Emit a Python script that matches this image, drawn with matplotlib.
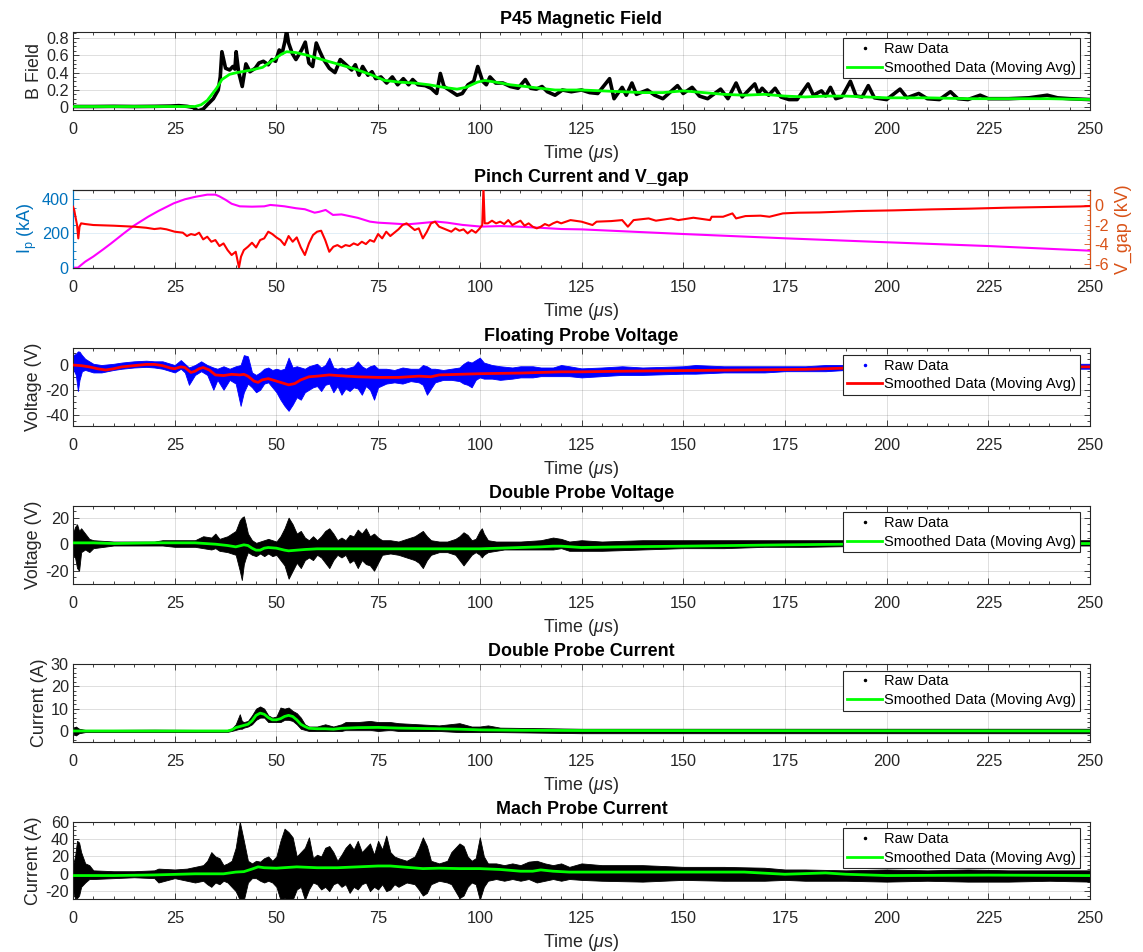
import matplotlib
matplotlib.use("Agg")
import matplotlib.pyplot as plt
import numpy as np
from matplotlib.lines import Line2D
from matplotlib.ticker import MultipleLocator, AutoMinorLocator, FuncFormatter

# ---------------------------------------------------------------------------
# Datos (tiempo en us)
# ---------------------------------------------------------------------------

# P45 campo magnetico: traza cruda (t, B) y media movil (t, B)
B_RAW = [(0, 0.01), (5, 0.01), (10, 0.012), (15, 0.01), (20, 0.012), (24, 0.015), (26, 0.02),
         (28, 0.012), (29.5, 0.0), (30.7, -0.04), (32, -0.02), (33, 0.03), (34.5, 0.1), (35.7, 0.2),
         (36.2, 0.35), (36.6, 0.64), (37.5, 0.45), (38.5, 0.43), (39.3, 0.47), (39.8, 0.44), (40.1, 0.64),
         (40.7, 0.41), (41.6, 0.24), (42.5, 0.5), (43.5, 0.41), (44.8, 0.45), (45.7, 0.51), (46.8, 0.53),
         (48, 0.49), (48.9, 0.55), (49.8, 0.53), (50.7, 0.66), (51.4, 0.62), (52.1, 0.76), (52.5, 0.88),
         (53, 0.74), (53.9, 0.62), (54.8, 0.55), (56.2, 0.66), (57.1, 0.75), (58, 0.51), (58.9, 0.47),
         (59.8, 0.74), (60.7, 0.64), (61.6, 0.55), (63, 0.45), (64.4, 0.4), (65.7, 0.55), (67.1, 0.49),
         (68.5, 0.43), (69.4, 0.49), (70.3, 0.37), (71.2, 0.47), (72.5, 0.37), (73.5, 0.41), (74.4, 0.33),
         (75.7, 0.35), (77.1, 0.28), (78.5, 0.35), (79.8, 0.26), (81.2, 0.33), (82.5, 0.26), (83.5, 0.32),
         (84.8, 0.26), (86.6, 0.25), (88, 0.22), (89.4, 0.16), (90.3, 0.39), (91.2, 0.24), (92.5, 0.2),
         (94.4, 0.14), (95.7, 0.16), (97.1, 0.26), (98.5, 0.3), (99.5, 0.47), (100.7, 0.3), (101.6, 0.26),
         (102.5, 0.35), (103.9, 0.28), (105.7, 0.28), (107.5, 0.24), (109.4, 0.22), (111.2, 0.32),
         (112.5, 0.22), (113.9, 0.21), (115.3, 0.24), (116.6, 0.18), (118.5, 0.14), (120.3, 0.2),
         (122.5, 0.18), (125, 0.2), (127, 0.17), (129, 0.16), (131.9, 0.33), (133, 0.1), (135, 0.23),
         (136, 0.14), (137.4, 0.28), (138.5, 0.15), (141.2, 0.2), (143, 0.14), (145, 0.1), (148.6, 0.25),
         (150, 0.16), (152.2, 0.23), (154, 0.13), (156, 0.1), (159.2, 0.21), (161, 0.1), (163, 0.28),
         (164.5, 0.12), (167.6, 0.27), (168.5, 0.16), (169.4, 0.22), (171, 0.14), (172.6, 0.22),
         (174, 0.12), (176, 0.09), (178, 0.09), (180.7, 0.27), (182, 0.14), (184, 0.19), (185, 0.13),
         (186.2, 0.23), (187.5, 0.1), (189, 0.12), (191.1, 0.3), (192.5, 0.13), (194, 0.12), (195.5, 0.25),
         (197, 0.11), (200, 0.09), (203.3, 0.21), (205, 0.11), (207.9, 0.16), (210, 0.1), (213, 0.09),
         (215.7, 0.18), (217.5, 0.1), (220, 0.09), (223, 0.14), (225, 0.1), (230, 0.1), (235, 0.11),
         (239.5, 0.14), (242, 0.11), (245, 0.1), (250, 0.09)]
B_SMOOTH = [(0, 0.01), (30, 0.01), (31.5, 0.03), (33, 0.08), (35.3, 0.22), (36.6, 0.32), (38.5, 0.38),
            (40.3, 0.4), (43.9, 0.43), (46.6, 0.46), (49.4, 0.55), (51.2, 0.61), (52.5, 0.64), (54.8, 0.63),
            (57.5, 0.6), (61.2, 0.55), (65.7, 0.49), (69.4, 0.44), (73, 0.38), (76.6, 0.31), (80.3, 0.29),
            (83.9, 0.28), (87.5, 0.26), (91.2, 0.23), (94.4, 0.21), (96.6, 0.23), (99.4, 0.29), (101.2, 0.31),
            (103.9, 0.29), (107.5, 0.26), (111.2, 0.24), (114.8, 0.22), (118.5, 0.2), (125, 0.2), (130, 0.19),
            (135, 0.18), (140, 0.17), (145, 0.17), (150, 0.19), (155, 0.17), (160, 0.15), (165, 0.14),
            (170, 0.15), (175, 0.13), (180, 0.12), (185, 0.13), (190, 0.13), (195, 0.12), (200, 0.11),
            (210, 0.11), (220, 0.1), (230, 0.1), (240, 0.1), (250, 0.09)]

# Corriente de pinch (kA) y V_gap (kV)
IP_KA = [(0, 0), (1.2, 0), (3, 35), (5, 65), (7.5, 108), (9.4, 142), (12.5, 200), (15, 245), (18.5, 297),
         (21, 330), (24.8, 375), (27.5, 398), (30, 412), (33, 425), (35, 425), (36, 415), (37.5, 395),
         (39, 372), (41, 357), (44, 355), (47, 357), (48.5, 365), (50, 362), (52, 357), (54.8, 346),
         (57, 340), (59.4, 320), (60.5, 325), (62.1, 336), (63.9, 307), (66, 310), (68, 300), (70, 290),
         (73, 268), (75, 262), (78, 258), (82, 252), (85, 258), (89.4, 268), (92, 262), (95.7, 249),
         (100.3, 239), (105, 242), (109.4, 239), (115, 232), (120, 225), (125, 223), (150, 196),
         (175, 171), (200, 148), (225, 126), (250, 99)]
VGAP_KV = [(0, -0.17), (0.3, -0.51), (0.6, -1.19), (1.0, -2.03), (1.3, -3.39), (1.6, -2.2), (2, -1.86),
           (3, -1.93), (5, -2.03), (10, -2.1), (15, -2.2), (18, -2.31), (20, -2.44), (21.5, -2.37),
           (23, -2.47), (25, -2.71), (27, -2.81), (28, -3.15), (29, -2.95), (30, -3.05), (31, -2.81),
           (32, -3.49), (33, -3.22), (34, -3.73), (35, -3.56), (36, -4.17), (37, -3.9), (38, -4.58),
           (39, -5.08), (40, -4.75), (40.8, -6.34), (41.3, -5.25), (42, -4.58), (43, -4.24), (44, -3.83),
           (45, -4.31), (46, -3.56), (47, -3.39), (48, -2.71), (49, -2.95), (50, -3.29), (51, -3.56),
           (52, -4.07), (53, -3.15), (54, -3.73), (55, -3.29), (56, -4.31), (57, -5.08), (58, -3.9),
           (59, -3.05), (60, -2.71), (61, -2.61), (62, -3.56), (63, -4.75), (64, -4.24), (65, -4.07),
           (66, -4.31), (67, -4.07), (68, -4.17), (69, -3.9), (70, -4.07), (71, -3.73), (72, -3.97),
           (73, -3.56), (74, -3.73), (75, -2.95), (76, -3.39), (77, -2.71), (78, -3.15), (79, -2.81),
           (80, -2.47), (81, -2.03), (82, -1.86), (83, -2.2), (84, -2.54), (85, -2.37), (86, -3.39),
           (87, -2.71), (88, -1.86), (89, -1.69), (90, -2.2), (91, -2.37), (92, -2.54), (93, -2.71),
           (94, -2.37), (95, -2.61), (96, -2.47), (97, -2.88), (98, -2.54), (99, -2.81), (100, -2.37),
           (100.6, -2.03), (100.9, 1.7), (101.2, -1.86), (102, -1.86), (103, -1.59), (104, -1.86),
           (105, -1.69), (106, -1.93), (107, -1.53), (108, -2.03), (109, -1.8), (110, -1.59), (111, -2.1),
           (112, -1.86), (113, -2.2), (114, -2.37), (115, -2.2), (116, -1.93), (117, -2.1), (118, -1.86),
           (119, -1.69), (120, -1.86), (122.3, -1.53), (125, -1.69), (127.7, -2.03), (128.7, -1.69),
           (132.3, -1.63), (135, -1.53), (136.4, -2.2), (137.8, -1.53), (141.5, -1.36), (143.3, -1.59),
           (147, -1.36), (148.8, -1.53), (152.5, -1.29), (156.6, -1.53), (157, -1.19), (159.8, -1.19),
           (162.1, -0.85), (163, -1.36), (165.3, -1.12), (169, -1.08), (171.2, -1.19), (174.5, -0.85),
           (178.1, -0.78), (183.6, -0.75), (192.8, -0.61), (201.9, -0.54), (211, -0.44), (220.2, -0.37),
           (229.4, -0.27), (238.6, -0.2), (247.7, -0.14), (250, -0.1)]

# Sonda flotante: envolvente de datos crudos (t, min, max) y media movil (V)
FP_ENV = [(0, -3, 8), (0.7, -8, 9), (1.2, -21, 11), (1.6, -12, 10.8), (2.2, -5, 8), (3, -4, 5), (5, -6, 1),
          (7, -6, 0), (10, -4, 1), (12, -3, 2), (15, -2, 3), (18, -1.5, 3.5), (20, -2, 3), (22, -3, 3),
          (24, -5, 1), (25, -6, 0), (26.5, -3, 4), (27.5, -6, 1), (28.5, -16, -2), (30, -8, 0), (31.5, -5, 3),
          (33, -8, 0), (34.5, -20, -2), (35.5, -12, -3), (37, -20, -1), (38.5, -12, -3), (40, -15, -1),
          (41.2, -33, 0), (42, -22, 8), (43, -15, 7), (44, -18, -6), (45, -22, -8), (46, -20, -6),
          (47, -15, -3), (48, -14, -2), (49, -18, -4), (50, -22, -3), (51, -28, -4), (52, -33, -3),
          (53, -37, 6), (54, -32, -2), (55, -26, -1), (56, -28, -2), (57, -22, -3), (58, -20, -1),
          (59, -18, 0), (60, -17, 1), (61, -21, -2), (62, -16, 0), (63, -15, 6), (64, -22, -2),
          (65, -17, -3), (66, -24, -2), (67, -19, -3), (68, -21, -2), (69, -18, -1), (70, -19, 3),
          (71, -24, -1), (72, -17, -3), (73, -20, -1), (74, -28, 0), (75, -18, -3), (77, -15, -3),
          (79, -14, -4), (81, -15, -2), (83, -13, -3), (85, -14, -3), (86, -16, 0), (87, -24, -1),
          (88, -19, -3), (89, -14, -3), (91, -12, -4), (93, -12, -3), (95, -13, -2), (96, -15, 1),
          (97, -16, 3), (98, -18, 2), (99, -12, 4), (100, -10, 6), (101, -11, 2), (103, -11, 0),
          (105, -12, -1), (108, -11, -2), (110, -10, -1), (113, -10, -1), (115, -9, -2), (118, -9, -2),
          (120, -9, 0), (122, -9, -1), (125, -10, -2.7), (130, -9, -2), (135, -8, -1), (140, -8, -2),
          (150, -7, -1), (153, -7, 0), (160, -6, -1), (170, -6, -1), (175, -5, -1), (180, -5, -1),
          (185, -5, 0), (190, -4, 0), (200, -4, 0), (225, -3.5, 0.5), (248, -3, 1), (250, -3, 1)]
FP_SMOOTH = [(0, 0), (2, -0.5), (4, -1.5), (6, -3), (8, -4), (10, -3), (12, -1.5), (15, -0.5), (18, 0.5),
             (20, 0.5), (22, -0.5), (24, -2.5), (25, -3), (26.5, -1.5), (27.5, -2), (29, -6), (30, -5),
             (31, -3), (32, -2), (33.5, -4), (35, -8), (37, -8.5), (39, -7.5), (41, -8), (42, -7.5),
             (43, -9), (44.5, -13), (45.5, -14), (46.5, -12), (48, -11), (49.5, -12.5), (51, -14),
             (53, -16), (54.5, -15), (56, -12), (58, -9.5), (60, -9), (63, -8), (65, -8.5), (70, -9.5),
             (75, -10), (80, -10), (85, -9), (88, -9.5), (90, -8), (95, -7.5), (100, -7), (110, -6.5),
             (120, -5.5), (125, -5.5), (135, -5), (150, -4.5), (165, -4), (180, -3.5), (190, -2.5),
             (200, -2), (225, -1.5), (250, -1.5)]

# Sonda doble, tension (V)
DPV_ENV = [(0, -8, 8), (0.5, -10, 13), (1, -18, 15), (1.5, -20, 10), (2, -6, 12), (3, -4, 8), (4, -6, 4),
           (5, -3, 3), (10, -1, 2), (15, -1, 2), (20, -1, 2), (22, -1, 3), (25, -2, 3), (28, -2, 3),
           (30, -2, 3), (32, -3, 6), (34, -4, 5), (35, -3, 8), (36, -5, 4), (38, -6, 6), (40, -8, 10),
           (41, -20, 18), (41.5, -27, 20), (42, -15, 21), (42.5, -10, 15), (43, -6, 8), (44, -8, 3),
           (45, -9, 1), (46, -7, 2), (47, -9, 3), (48, -7, 4), (49, -9, 3), (50, -8, 2), (51, -12, 6),
           (52, -16, 12), (53, -26, 20), (54, -20, 15), (55, -14, 8), (56, -18, 10), (57, -12, 5),
           (58, -10, 3), (59, -12, 6), (60, -8, 3), (61, -10, 6), (62, -14, 10), (63, -18, 12),
           (64, -12, 8), (65, -8, 3), (66, -10, 5), (67, -8, 3), (68, -14, 7), (69, -12, 6), (70, -18, 11),
           (71, -12, 8), (72, -15, 12), (73, -16, 6), (74, -20, 8), (75, -14, 5), (76, -8, 3), (78, -7, 3),
           (80, -8, 2), (82, -10, 4), (84, -12, 6), (85, -14, 8), (86, -18, 10), (87, -12, 6), (88, -8, 3),
           (90, -6, 2), (92, -6, 2), (94, -8, 4), (95, -12, 6), (96, -16, 9), (97, -12, 7), (98, -8, 3),
           (99, -6, 4), (100, -8, 10), (100.5, -10, 12), (101, -8, 8), (102, -6, 3), (104, -5, 2),
           (106, -4, 2), (110, -4, 2), (115, -4, 3), (118, -4, 5), (120, -3, 4), (122, -5, 2),
           (125, -5, 3), (130, -5, 2), (140, -4, 3), (150, -3, 3), (160, -3, 3), (170, -2, 3),
           (180, -2, 3), (190, -1.5, 3), (220, -1, 3), (250, -1, 3)]
DPV_SMOOTH = [(0, 1), (5, 1), (10, 0.5), (20, 1), (25, 1), (30, 1), (35, 0), (38, -1), (40, -2),
              (42, -0.5), (43, -1), (44, -3), (45, -4.5), (46, -4.5), (47, -3), (48, -2.5), (50, -3),
              (52, -4.5), (53, -5), (55, -4.5), (57, -4), (60, -3.5), (70, -3.5), (80, -3.5), (90, -3.5),
              (100, -3.5), (105, -3), (110, -2.5), (115, -2), (118, -1.5), (120, -1.5), (125, -2.5),
              (135, -2), (150, -1.5), (175, -0.5), (190, 0), (220, 0.5), (250, 0.5)]

# Sonda doble, corriente (A)
DPC_ENV = [(0, -1, 1), (0.7, -2, 2), (1.5, -1, 1), (3, -0.5, 0.5), (10, -0.5, 0.5), (20, -0.5, 0.6),
           (30, -0.5, 0.5), (38, -0.4, 0.5), (39, 0, 1), (40, 0.5, 3), (41, 1, 7.5), (41.5, 1, 4.5),
           (42, 1.5, 4), (43, 2, 4.5), (44, 3, 7), (45, 5, 10), (46, 6, 11), (47, 6, 10), (48, 4, 7),
           (49, 4, 6), (50, 4, 6.5), (51, 4, 10.5), (52, 5, 10), (53, 5, 10.5), (54, 4.5, 9), (55, 3, 8),
           (56, 1, 6), (57, 0.5, 3), (58, 0, 2), (60, 0, 2), (62, 0, 3), (64, 0, 2), (66, 0, 3),
           (67, 0.5, 4), (70, 0.5, 4), (73, 0.5, 4.5), (75, 0, 4), (78, 0.5, 4), (80, 0, 3.5), (85, 0, 3),
           (90, 0, 2.5), (95, -0.5, 3.5), (98, -0.5, 2), (100, -0.5, 2), (102, -0.5, 2.5), (105, -0.5, 1.5),
           (125, -1, 1), (150, -1, 1), (200, -1, 1), (250, -1, 1)]
DPC_SMOOTH = [(0, 0), (38, 0), (39, 0.5), (40, 1.5), (42, 2.5), (43, 3), (44, 4.5), (45, 7), (46, 8),
              (47, 7.5), (48, 6), (49, 5), (50, 5), (51, 5.5), (52, 6.5), (53, 7), (54, 6.5), (55, 5),
              (56, 3), (57, 2), (58, 1.2), (60, 1), (62, 1), (64, 0.8), (66, 1.2), (70, 1.5), (75, 1.6),
              (80, 1.3), (90, 1), (95, 0.8), (100, 0.5), (110, 0.3), (125, 0.2), (250, 0)]

# Sonda Mach, corriente (A)
MPC_ENV = [(0, -20, 10), (0.5, -28, 20), (1, -28, 38), (1.5, -25, 36), (2, -15, 25), (3, -10, 12),
           (4, -6, 10), (5, -6, 4), (10, -5, 3), (15, -4, 3), (20, -5, 4), (21, -10, 6), (25, -5, 5),
           (28, -8, 6), (30, -10, 8), (32, -8, 10), (33, -12, 15), (34, -15, 25), (35, -10, 20),
           (36, -12, 18), (37, -8, 10), (38, -10, 12), (39, -15, 15), (40, -20, 30), (41, -30, 60),
           (42, -30, 38), (43, -10, 15), (44, -5, 12), (45, -5, 15), (46, -8, 14), (47, -10, 18),
           (48, -8, 20), (49, -10, 15), (50, -15, 20), (51, -30, 38), (52, -28, 52), (53, -30, 48),
           (54, -30, 42), (55, -18, 20), (56, -15, 25), (57, -30, 30), (58, -18, 42), (59, -10, 18),
           (60, -12, 22), (61, -18, 20), (62, -15, 30), (63, -20, 32), (64, -12, 25), (65, -10, 15),
           (66, -15, 22), (67, -12, 30), (68, -22, 35), (69, -15, 28), (70, -18, 38), (71, -12, 25),
           (72, -10, 30), (73, -20, 35), (74, -15, 22), (75, -18, 38), (76, -12, 28), (77, -20, 44),
           (78, -18, 25), (79, -12, 20), (80, -15, 18), (82, -10, 15), (84, -12, 20), (85, -18, 30),
           (86, -25, 42), (87, -22, 32), (88, -12, 15), (90, -8, 12), (92, -10, 15), (93, -12, 25),
           (94, -20, 30), (95, -28, 35), (96, -25, 32), (97, -15, 20), (98, -10, 15), (99, -12, 18),
           (100, -30, 42), (101, -15, 20), (102, -8, 12), (104, -6, 12), (106, -8, 10), (108, -6, 12),
           (110, -8, 10), (112, -6, 14), (114, -10, 15), (116, -8, 12), (118, -6, 10), (120, -8, 12),
           (122, -6, 8), (125, -7, 12), (130, -8, 10), (140, -9, 10), (150, -7, 8), (160, -8, 8),
           (170, -8, 7), (175, -7, 5), (180, -8, 5), (190, -8, 4), (200, -9, 5), (210, -8, 4),
           (220, -9, 5), (230, -9, 4), (240, -8, 4), (250, -9, 4)]
MPC_SMOOTH = [(0, -2), (10, -2), (20, -1.3), (30, 0), (37, 0), (40, 2), (42, 2.5), (44, 5.5), (45.5, 8),
              (47, 7), (50, 6.5), (55, 8), (60, 7), (65, 7), (70, 8), (75, 9), (78, 9), (82, 7.5), (86, 6),
              (90, 6.5), (95, 6), (100, 6), (105, 5), (110, 3), (113, 3), (115, 4.5), (118, 3), (122, 2),
              (125, 2), (150, 2), (165, 2), (175, -0.5), (185, 1), (190, -0.5), (200, -2), (225, -1.5),
              (250, -2)]

LEGEND_LABELS = ["Raw Data", "Smoothed Data (Moving Avg)"]

# ---------------------------------------------------------------------------
# Estilo tipo MATLAB
# ---------------------------------------------------------------------------
plt.rcParams["font.family"] = ["Liberation Sans", "DejaVu Sans"]
plt.rcParams["axes.unicode_minus"] = False
plt.rcParams["mathtext.fontset"] = "custom"
plt.rcParams["mathtext.rm"] = "Liberation Sans"
plt.rcParams["mathtext.it"] = "Liberation Sans:italic"

W, H = 1143, 952
AX_GRAY = "#262626"
ML_BLUE = "#0072BD"
ML_ORANGE = "#D95319"
TICK_FS = 11.7
LABEL_FS = 12.9
LEG_FS = 10.5

# (top, bottom) de cada panel en pixeles
PANELS = [(31.7, 110), (190, 267.7), (348.3, 425.7), (505.7, 584), (664, 741.7), (821.7, 899)]
AX_LEFT, AX_RIGHT = 73, 1090

fmt = FuncFormatter(lambda v, p: f"{v:g}")


def make_axes(fig, top, bottom):
    return fig.add_axes([AX_LEFT / W, 1 - bottom / H, (AX_RIGHT - AX_LEFT) / W, (bottom - top) / H])


def style(ax, ylim, yticks, ylabel, title):
    ax.set_xlim(0, 250)
    ax.set_ylim(*ylim)
    ax.set_xticks(np.arange(0, 251, 25))
    ax.xaxis.set_minor_locator(MultipleLocator(5))
    ax.set_yticks(yticks)
    ax.yaxis.set_minor_locator(AutoMinorLocator())
    ax.yaxis.set_major_formatter(fmt)
    ax.tick_params(which="both", direction="in", top=True, right=True, color=AX_GRAY,
                   labelcolor=AX_GRAY, labelsize=TICK_FS, width=0.6)
    ax.tick_params(axis="x", which="major", pad=8.5)
    ax.tick_params(axis="y", which="major", pad=3)
    ax.tick_params(which="major", length=4)
    ax.tick_params(which="minor", length=2)
    ax.grid(True, which="major", color=AX_GRAY, alpha=0.15, lw=0.7)
    ax.set_axisbelow(True)
    for sp in ax.spines.values():
        sp.set_color(AX_GRAY)
        sp.set_linewidth(0.8)
    ax.set_xlabel("Time ($\\mu$s)", fontsize=LABEL_FS, color=AX_GRAY, labelpad=4.5)
    ax.set_ylabel(ylabel, fontsize=LABEL_FS, color=AX_GRAY, labelpad=2)
    ax.set_title(title, fontsize=LABEL_FS, fontweight="bold", pad=5.5)


def add_legend(ax, raw_color, smooth_color, ax_h):
    handles = [Line2D([], [], ls="none", marker=".", ms=3, color=raw_color),
               Line2D([], [], color=smooth_color, lw=2)]
    leg = ax.legend(handles, LEGEND_LABELS, loc="upper right",
                    bbox_to_anchor=(0.990, 1 - 6.7 / ax_h), borderaxespad=0, fontsize=LEG_FS,
                    fancybox=False, framealpha=1, edgecolor=AX_GRAY, handlelength=2.4,
                    handletextpad=0.15, labelspacing=0.32, borderpad=0.25)
    leg.get_frame().set_linewidth(0.8)
    leg.set_zorder(10)


def band(ax, env, color):
    e = np.array(env, dtype=float)
    ax.fill_between(e[:, 0], e[:, 1], e[:, 2], color=color, lw=0.6, zorder=2)


def line(ax, pts, color, lw):
    p = np.array(pts, dtype=float)
    ax.plot(p[:, 0], p[:, 1], color=color, lw=lw, zorder=3)


fig = plt.figure(figsize=(W / 100, H / 100), dpi=100)

# --- 1. Campo magnetico ---
top, bot = PANELS[0]
ax = make_axes(fig, top, bot)
line(ax, B_RAW, "black", 2.6)
line(ax, B_SMOOTH, "#00FF00", 2.0)
style(ax, (-0.03, 0.87), [0, 0.2, 0.4, 0.6, 0.8], "B Field", "P45 Magnetic Field")
add_legend(ax, "black", "#00FF00", bot - top)

# --- 2. Corriente de pinch y V_gap ---
top, bot = PANELS[1]
ax = make_axes(fig, top, bot)
style(ax, (0, 452), [0, 200, 400], "$\\mathrm{I_p}$ (kA)", "Pinch Current and V_gap")
ax.grid(False)
ax.grid(True, axis="x", color=AX_GRAY, alpha=0.15, lw=0.7)
ax.grid(True, axis="y", color=ML_BLUE, alpha=0.12, lw=0.7)
ax.tick_params(axis="y", which="both", right=False, color=ML_BLUE, labelcolor=ML_BLUE)
ax.spines["left"].set_color(ML_BLUE)
ax.yaxis.label.set_color(ML_BLUE)
ip = np.array(IP_KA, dtype=float)
ax.plot(ip[:, 0], ip[:, 1], color="#FF00FF", lw=1.5, zorder=3)
ax2 = ax.twinx()
vg = np.array(VGAP_KV, dtype=float)
ax2.plot(vg[:, 0], vg[:, 1], color="#FF0000", lw=1.5, zorder=3)
ax2.set_ylim(-6.37, 1.53)
ax2.set_yticks([-6, -4, -2, 0])
ax2.yaxis.set_minor_locator(AutoMinorLocator())
ax2.yaxis.set_major_formatter(fmt)
ax2.tick_params(axis="y", which="both", direction="in", color=ML_ORANGE, labelcolor=ML_ORANGE,
                labelsize=TICK_FS, width=0.6, pad=3)
ax2.tick_params(which="major", length=4)
ax2.tick_params(which="minor", length=2)
for name, sp in ax2.spines.items():
    sp.set_linewidth(0.8)
    sp.set_color(ML_ORANGE if name == "right" else AX_GRAY)
ax2.spines["left"].set_color(ML_BLUE)
ax2.set_ylabel("V_gap (kV)", fontsize=LABEL_FS, color=ML_ORANGE, labelpad=4)

# --- 3. Sonda flotante ---
top, bot = PANELS[2]
ax = make_axes(fig, top, bot)
band(ax, FP_ENV, "#0000FF")
line(ax, FP_SMOOTH, "#FF0000", 2.0)
style(ax, (-49, 13.5), [-40, -20, 0], "Voltage (V)", "Floating Probe Voltage")
add_legend(ax, "#0000FF", "#FF0000", bot - top)

# --- 4. Sonda doble, tension ---
top, bot = PANELS[3]
ax = make_axes(fig, top, bot)
band(ax, DPV_ENV, "black")
line(ax, DPV_SMOOTH, "#00FF00", 2.0)
style(ax, (-30, 29), [-20, 0, 20], "Voltage (V)", "Double Probe Voltage")
add_legend(ax, "black", "#00FF00", bot - top)

# --- 5. Sonda doble, corriente ---
top, bot = PANELS[4]
ax = make_axes(fig, top, bot)
band(ax, DPC_ENV, "black")
line(ax, DPC_SMOOTH, "#00FF00", 2.0)
style(ax, (-4.8, 30), [0, 10, 20, 30], "Current (A)", "Double Probe Current")
add_legend(ax, "black", "#00FF00", bot - top)

# --- 6. Sonda Mach ---
top, bot = PANELS[5]
ax = make_axes(fig, top, bot)
band(ax, MPC_ENV, "black")
line(ax, MPC_SMOOTH, "#00FF00", 2.0)
style(ax, (-29, 60), [-20, 0, 20, 40, 60], "Current (A)", "Mach Probe Current")
add_legend(ax, "black", "#00FF00", bot - top)

fig.savefig("out.png", dpi=100)
